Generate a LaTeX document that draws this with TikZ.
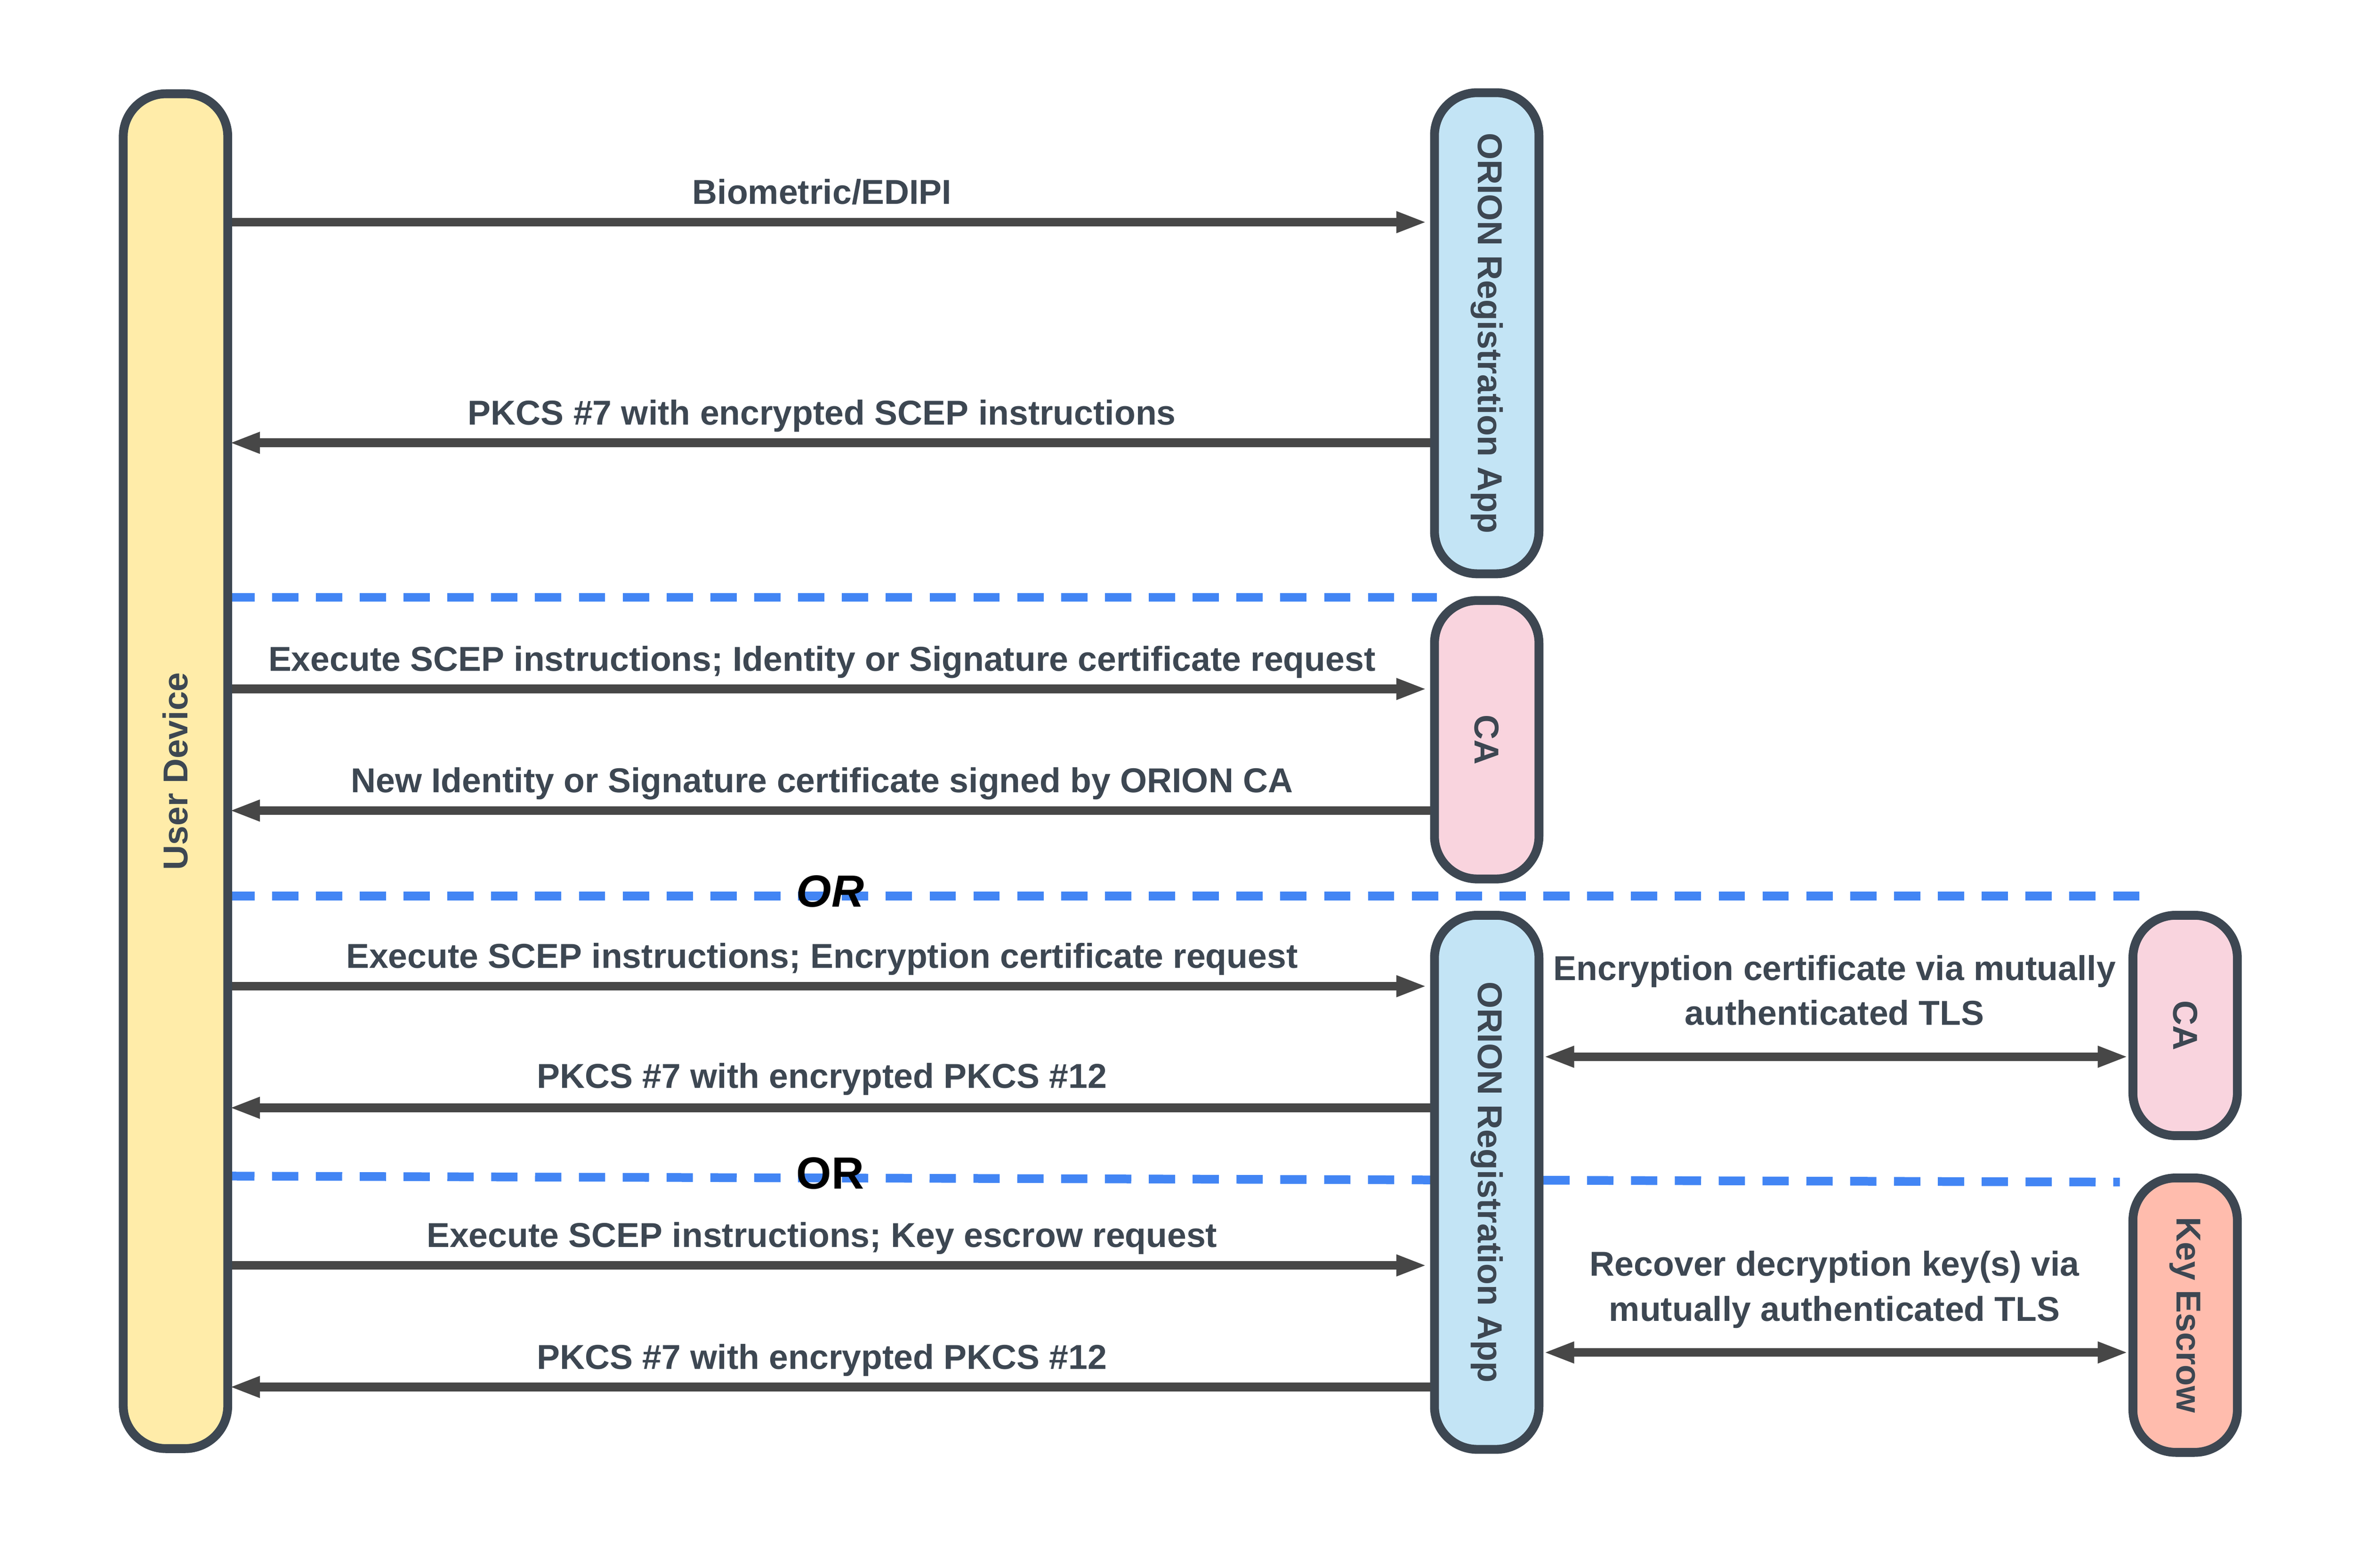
\documentclass[tikz,border=0pt]{standalone}
\usepackage{fontspec}
\setmainfont{Liberation Sans}
\usetikzlibrary{arrows.meta}
\definecolor{bordc}{HTML}{3D4752}
\definecolor{txtc}{HTML}{3D4752}
\definecolor{arrc}{HTML}{474747}
\definecolor{dashc}{HTML}{4285F4}
\definecolor{yel}{HTML}{FFECA9}
\definecolor{lblue}{HTML}{C3E4F5}
\definecolor{lpink}{HTML}{F9D4DE}
\definecolor{salm}{HTML}{FFBCAD}
\tikzset{
  lane/.style={draw=bordc, line width=5.9pt, rounded corners=28.5pt, minimum width=69.6pt,
    inner sep=0pt, text=txtc, font=\fontsize{23}{28}\selectfont\bfseries},
  msg/.style={draw=arrc, line width=5.8pt, -{Triangle[length=20.5pt,width=13pt]}},
  back/.style={msg, shorten >=-2pt},
  dmsg/.style={draw=arrc, line width=5.8pt, {Triangle[length=20.5pt,width=13pt]}-{Triangle[length=20.5pt,width=13pt]}},
  sep/.style={draw=dashc, line width=5.8pt, dash pattern=on 17.5pt off 11.7pt},
  lbl/.style={text=txtc, font=\fontsize{23}{30}\selectfont\bfseries, inner sep=0pt, anchor=base},
  orlbl/.style={text=black, font=\fontsize{30}{36}\selectfont\bfseries, inner sep=0pt, anchor=base},
}
\begin{document}
\begin{tikzpicture}[x=1pt,y=-1pt]
\useasboundingbox[fill=white] (0,0) rectangle (1568,1044.3);
% separators (drawn below the lanes)
\coordinate (s1a) at (152,398); \coordinate (s1b) at (957,398);
\coordinate (s2a) at (152,597); \coordinate (s2b) at (1436,597);
\coordinate (s3a) at (152,783.5); \coordinate (s3b) at (1412,787.5);
\draw[sep] (s1a) -- (s1b);
\draw[sep] (s2a) -- (s2b);
\draw[sep] (s3a) -- (s3b);
% lanes
\node[lane, fill=yel, minimum height=902.6pt] (ud) at (116.9,513.75) {\rotatebox{90}{User Device}};
\node[lane, fill=lblue, minimum height=320.5pt] (app1) at (990.3,222) {\rotatebox{-90}{ORION Registration App}};
\node[lane, fill=lpink, minimum height=185.5pt] (ca1) at (990.3,492.8) {\rotatebox{-90}{CA}};
\node[lane, fill=lblue, minimum height=355.8pt] (app2) at (990.3,787.65) {\rotatebox{-90}{ORION Registration App}};
\node[lane, fill=lpink, minimum height=146.8pt] (ca2) at (1455.5,683.15) {\rotatebox{-90}{CA}};
\node[lane, fill=salm, minimum height=182.8pt] (ke) at (1455.5,876.15) {\rotatebox{-90}{Key Escrow}};
% messages
\draw[msg, shorten >=2pt] (ud.east |- 0,148) -- (app1.west |- 0,148);
\node[lbl] (m1) at (547.5,136) {Biometric/EDIPI};
\draw[back] (app1.west |- 0,295) -- (ud.east |- 0,295);
\node[lbl] (m2) at (547.5,283) {PKCS \#7 with encrypted SCEP instructions};
\draw[msg, shorten >=2pt] (ud.east |- 0,459) -- (ca1.west |- 0,459);
\node[lbl] (m3) at (547.5,447) {Execute SCEP instructions; Identity or Signature certificate request};
\draw[back] (ca1.west |- 0,540) -- (ud.east |- 0,540);
\node[lbl] (m4) at (547.5,528) {New Identity or Signature certificate signed by ORION CA};
\node[orlbl] (or1) at (553,604) {\itshape OR};
\draw[msg, shorten >=2pt] (ud.east |- 0,657) -- (app2.west |- 0,657);
\node[lbl] (m5) at (547.5,645) {Execute SCEP instructions; Encryption certificate request};
\draw[back] (app2.west |- 0,738) -- (ud.east |- 0,738);
\node[lbl] (m6) at (547.5,725) {PKCS \#7 with encrypted PKCS \#12};
\draw[dmsg] (app2.east |- 0,704) -- (ca2.west |- 0,704);
\node[lbl, align=center] (m7) at (1222,683) {Encryption certificate via mutually\\authenticated TLS};
\node[orlbl] (or2) at (553,792) {OR};
\draw[msg, shorten >=2pt] (ud.east |- 0,843) -- (app2.west |- 0,843);
\node[lbl] (m8) at (547.5,831) {Execute SCEP instructions; Key escrow request};
\draw[back] (app2.west |- 0,924) -- (ud.east |- 0,924);
\node[lbl] (m9) at (547.5,912) {PKCS \#7 with encrypted PKCS \#12};
\draw[dmsg] (app2.east |- 0,901) -- (ke.west |- 0,901);
\node[lbl, align=center] (m10) at (1222,880) {Recover decryption key(s) via\\mutually authenticated TLS};
\end{tikzpicture}
\end{document}
